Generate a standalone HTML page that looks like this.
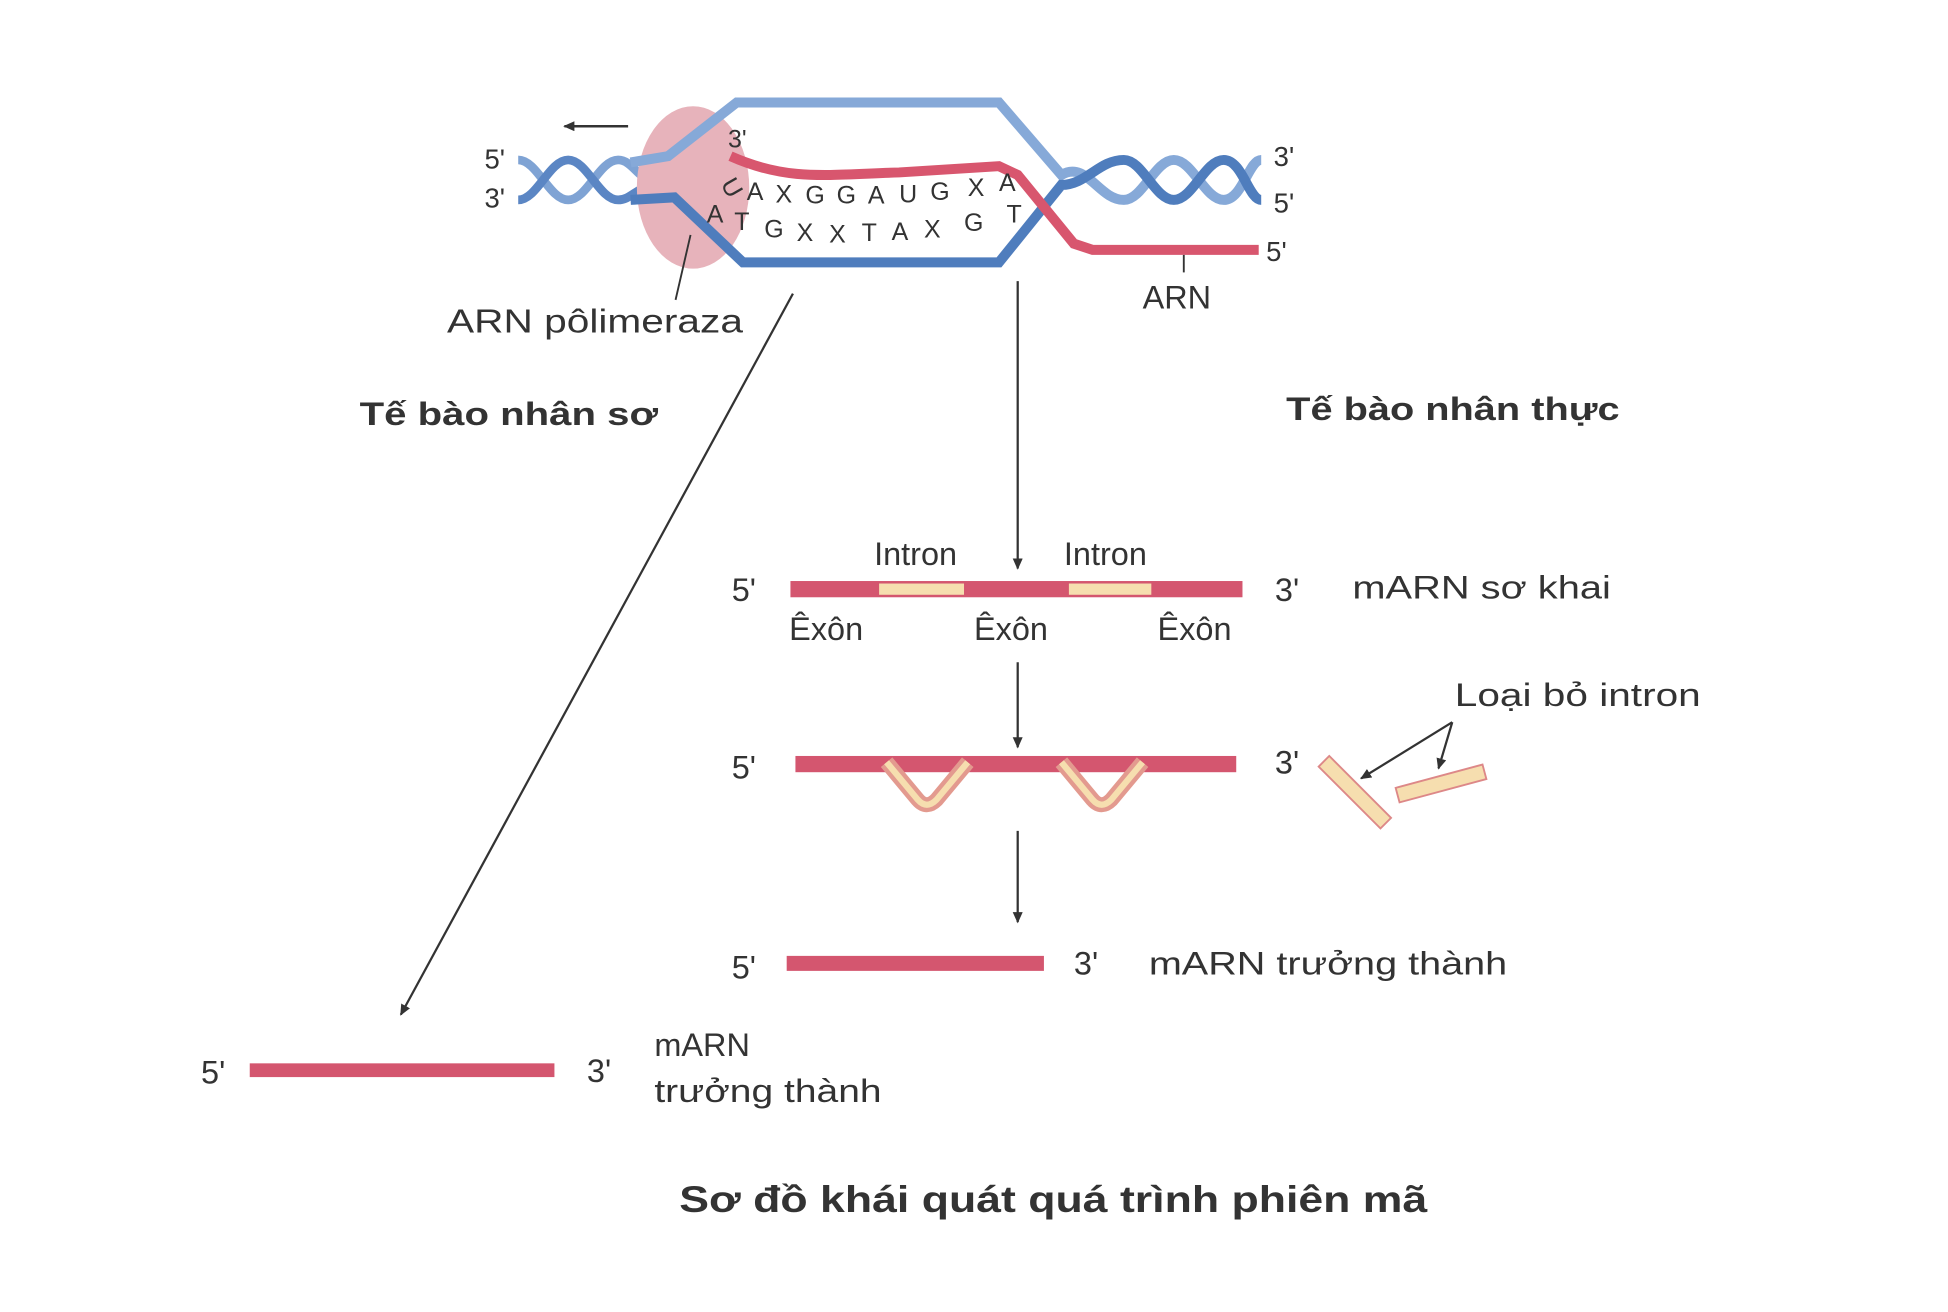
<!DOCTYPE html>
<html><head><meta charset="utf-8"><style>
html,body{margin:0;padding:0;background:#fff;}
svg{display:block;}
text{font-family:"Liberation Sans",sans-serif;fill:#333;}
</style></head><body>
<svg width="1948" height="1312" viewBox="0 0 1560 1050" preserveAspectRatio="none" xmlns="http://www.w3.org/2000/svg">
<defs>
<marker id="ah" markerWidth="10" markerHeight="10" refX="8" refY="4" orient="auto" markerUnits="userSpaceOnUse"><path d="M0,0 L9,4 L0,8 Z" fill="#333"/></marker>
</defs>
<rect width="1560" height="1050" fill="#fff"/>
<line x1="503" y1="101" x2="452" y2="101" stroke="#333" stroke-width="2" marker-end="url(#ah)"/>
<path d="M415,128 C430,128 440,160 455,160 C470,160 480,128 495,128 C505,128 510,140 520,145" stroke="#7fa3d4" stroke-width="7" fill="none"/>
<path d="M415,160 C430,160 440,128 455,128 C470,128 480,160 495,160 C505,160 510,150 520,150" stroke="#5b86c4" stroke-width="7" fill="none"/>
<ellipse cx="555" cy="150" rx="45" ry="65" fill="#e7b3bb"/>
<path d="M505,130 L535,125 L590,82 L800,82 L850,140 C870,128 880,160 900,160 C915,160 925,128 940,128 C955,128 965,160 980,160 C995,160 1000,128 1010,128" stroke="#86a9d8" stroke-width="8" fill="none"/>
<path d="M505,160 L540,158 L595,210 L800,210 L850,148 C870,148 880,128 900,128 C915,128 925,160 940,160 C955,160 965,128 980,128 C995,128 1000,160 1010,160" stroke="#4f7dbd" stroke-width="8" fill="none"/>
<path d="M585,125 C630,145 660,140 720,138 L800,133 L815,140 L860,195 L875,200 L1008,200" stroke="#d8566e" stroke-width="8" fill="none"/>
<g font-size="20">
<text x="583" y="118">3'</text>
<text x="578" y="155" transform="rotate(60 584 150)">U</text>
<text x="598" y="160">A</text><text x="621" y="162">X</text><text x="645" y="163">G</text><text x="670" y="163">G</text><text x="695" y="163">A</text><text x="720" y="162">U</text><text x="745" y="160">G</text><text x="775" y="157">X</text><text x="800" y="153">A</text>
<text x="566" y="178">A</text><text x="588" y="184">T</text><text x="612" y="190">G</text><text x="638" y="193">X</text><text x="664" y="194">X</text><text x="690" y="193">T</text><text x="714" y="192">A</text><text x="740" y="190">X</text><text x="772" y="185">G</text><text x="806" y="178">T</text>
</g>
<g font-size="22">
<text x="388" y="135">5'</text><text x="388" y="166">3'</text>
<text x="1020" y="133">3'</text><text x="1020" y="170">5'</text><text x="1014" y="209">5'</text>
</g>
<line x1="948" y1="204" x2="948" y2="218" stroke="#333" stroke-width="1.5"/>
<text x="915" y="247" font-size="26">ARN</text>
<line x1="541" y1="240" x2="553" y2="188" stroke="#333" stroke-width="1.5"/>
<text x="358" y="266" font-size="27" textLength="237" lengthAdjust="spacingAndGlyphs">ARN pôlimeraza</text>
<text x="288" y="340" font-size="26" font-weight="bold" textLength="239" lengthAdjust="spacingAndGlyphs">Tế bào nhân sơ</text>
<text x="1030" y="336" font-size="26" font-weight="bold" textLength="267" lengthAdjust="spacingAndGlyphs">Tế bào nhân thực</text>
<line x1="635" y1="235" x2="321" y2="812" stroke="#333" stroke-width="1.8" marker-end="url(#ah)"/>
<line x1="815" y1="225" x2="815" y2="455" stroke="#333" stroke-width="1.8" marker-end="url(#ah)"/>
<rect x="633" y="465" width="362" height="13" fill="#d4566f"/>
<rect x="704" y="467" width="68" height="9" fill="#f6deaf"/>
<rect x="856" y="467" width="66" height="9" fill="#f6deaf"/>
<g font-size="26">
<text x="700" y="452">Intron</text><text x="852" y="452">Intron</text>
<text x="586" y="481">5'</text><text x="1021" y="481">3'</text><text x="1083" y="479" textLength="207" lengthAdjust="spacingAndGlyphs">mARN sơ khai</text>
<text x="632" y="512">Êxôn</text><text x="780" y="512">Êxôn</text><text x="927" y="512">Êxôn</text>
</g>
<line x1="815" y1="530" x2="815" y2="598" stroke="#333" stroke-width="1.8" marker-end="url(#ah)"/>
<rect x="637" y="605" width="353" height="13" fill="#d4566f"/>
<path d="M710,610 L735,640 Q742,648 750,640 L775,610" stroke="#e39a8f" stroke-width="12" fill="none"/>
<path d="M710,610 L735,640 Q742,648 750,640 L775,610" stroke="#f6deaf" stroke-width="5" fill="none"/>
<path d="M850,610 L875,640 Q882,648 890,640 L915,610" stroke="#e39a8f" stroke-width="12" fill="none"/>
<path d="M850,610 L875,640 Q882,648 890,640 L915,610" stroke="#f6deaf" stroke-width="5" fill="none"/>
<g font-size="26">
<text x="586" y="623">5'</text><text x="1021" y="619">3'</text>
<text x="1165" y="565" textLength="197" lengthAdjust="spacingAndGlyphs">Loại bỏ intron</text>
</g>
<line x1="1163" y1="578" x2="1090" y2="623" stroke="#333" stroke-width="1.8" marker-end="url(#ah)"/>
<line x1="1163" y1="578" x2="1152" y2="615" stroke="#333" stroke-width="1.8" marker-end="url(#ah)"/>
<rect x="1050" y="628" width="70" height="12" fill="#f6deaf" stroke="#d88" stroke-width="1.5" transform="rotate(45 1085 634)"/>
<rect x="1118" y="621" width="72" height="12" fill="#f6deaf" stroke="#d88" stroke-width="1.5" transform="rotate(-15 1154 627)"/>
<line x1="815" y1="665" x2="815" y2="738" stroke="#333" stroke-width="1.8" marker-end="url(#ah)"/>
<rect x="630" y="765" width="206" height="12" fill="#d4566f"/>
<g font-size="26">
<text x="586" y="783">5'</text><text x="860" y="780">3'</text><text x="920" y="780" textLength="287" lengthAdjust="spacingAndGlyphs">mARN trưởng thành</text>
</g>
<rect x="200" y="851" width="244" height="11" fill="#d4566f"/>
<g font-size="26">
<text x="161" y="867">5'</text><text x="470" y="866">3'</text>
<text x="524" y="845">mARN</text><text x="524" y="882" textLength="182" lengthAdjust="spacingAndGlyphs">trưởng thành</text>
</g>
<text x="544" y="970" font-size="30" font-weight="bold" textLength="599" lengthAdjust="spacingAndGlyphs">Sơ đồ khái quát quá trình phiên mã</text>
</svg>
</body></html>
